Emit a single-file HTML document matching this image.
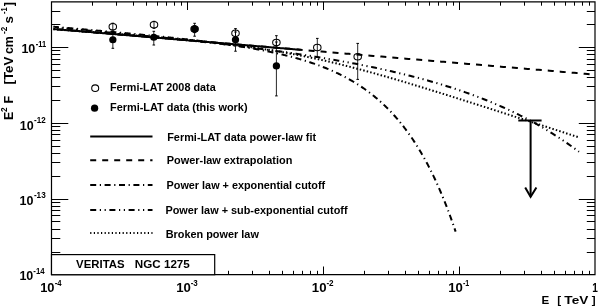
<!DOCTYPE html>
<html><head><meta charset="utf-8"><style>
html,body{margin:0;padding:0;background:#fff;}
body{width:600px;height:308px;overflow:hidden;}
svg{display:block;filter:blur(0.3px);}
text{font-family:"Liberation Sans",sans-serif;font-weight:bold;}
</style></head><body>
<svg width="600" height="308" viewBox="0 0 600 308">
<rect width="600" height="308" fill="#fff"/>
<path d="M51.5,252.5H60.3M595.0,252.5H586.8" stroke="#000" stroke-width="1"/>
<path d="M51.5,238.5H60.3M595.0,238.5H586.8" stroke="#000" stroke-width="1"/>
<path d="M51.5,229.5H60.3M595.0,229.5H586.8" stroke="#000" stroke-width="1"/>
<path d="M51.5,221.5H60.3M595.0,221.5H586.8" stroke="#000" stroke-width="1"/>
<path d="M51.5,215.5H60.3M595.0,215.5H586.8" stroke="#000" stroke-width="1"/>
<path d="M51.5,210.5H60.3M595.0,210.5H586.8" stroke="#000" stroke-width="1"/>
<path d="M51.5,206.5H60.3M595.0,206.5H586.8" stroke="#000" stroke-width="1"/>
<path d="M51.5,202.5H60.3M595.0,202.5H586.8" stroke="#000" stroke-width="1"/>
<path d="M51.5,199.5H68.3M595.0,199.5H578.8" stroke="#000" stroke-width="1"/>
<path d="M51.5,176.5H60.3M595.0,176.5H586.8" stroke="#000" stroke-width="1"/>
<path d="M51.5,162.5H60.3M595.0,162.5H586.8" stroke="#000" stroke-width="1"/>
<path d="M51.5,153.5H60.3M595.0,153.5H586.8" stroke="#000" stroke-width="1"/>
<path d="M51.5,146.5H60.3M595.0,146.5H586.8" stroke="#000" stroke-width="1"/>
<path d="M51.5,140.5H60.3M595.0,140.5H586.8" stroke="#000" stroke-width="1"/>
<path d="M51.5,134.5H60.3M595.0,134.5H586.8" stroke="#000" stroke-width="1"/>
<path d="M51.5,130.5H60.3M595.0,130.5H586.8" stroke="#000" stroke-width="1"/>
<path d="M51.5,126.5H60.3M595.0,126.5H586.8" stroke="#000" stroke-width="1"/>
<path d="M51.5,123.5H68.3M595.0,123.5H578.8" stroke="#000" stroke-width="1"/>
<path d="M51.5,100.5H60.3M595.0,100.5H586.8" stroke="#000" stroke-width="1"/>
<path d="M51.5,86.5H60.3M595.0,86.5H586.8" stroke="#000" stroke-width="1"/>
<path d="M51.5,77.5H60.3M595.0,77.5H586.8" stroke="#000" stroke-width="1"/>
<path d="M51.5,70.5H60.3M595.0,70.5H586.8" stroke="#000" stroke-width="1"/>
<path d="M51.5,64.5H60.3M595.0,64.5H586.8" stroke="#000" stroke-width="1"/>
<path d="M51.5,59.5H60.3M595.0,59.5H586.8" stroke="#000" stroke-width="1"/>
<path d="M51.5,54.5H60.3M595.0,54.5H586.8" stroke="#000" stroke-width="1"/>
<path d="M51.5,50.5H60.3M595.0,50.5H586.8" stroke="#000" stroke-width="1"/>
<path d="M51.5,47.5H68.3M595.0,47.5H578.8" stroke="#000" stroke-width="1"/>
<path d="M51.5,24.5H60.3M595.0,24.5H586.8" stroke="#000" stroke-width="1"/>
<path d="M51.5,11.5H60.3M595.0,11.5H586.8" stroke="#000" stroke-width="1"/>
<path d="M92.5,274.7V270.8M92.5,1.8V5.7" stroke="#000" stroke-width="1"/>
<path d="M116.5,274.7V270.8M116.5,1.8V5.7" stroke="#000" stroke-width="1"/>
<path d="M133.5,274.7V270.8M133.5,1.8V5.7" stroke="#000" stroke-width="1"/>
<path d="M146.5,274.7V270.8M146.5,1.8V5.7" stroke="#000" stroke-width="1"/>
<path d="M157.5,274.7V270.8M157.5,1.8V5.7" stroke="#000" stroke-width="1"/>
<path d="M166.5,274.7V270.8M166.5,1.8V5.7" stroke="#000" stroke-width="1"/>
<path d="M174.5,274.7V270.8M174.5,1.8V5.7" stroke="#000" stroke-width="1"/>
<path d="M181.5,274.7V270.8M181.5,1.8V5.7" stroke="#000" stroke-width="1"/>
<path d="M187.5,274.7V266.5M187.5,1.8V10.0" stroke="#000" stroke-width="1"/>
<path d="M228.5,274.7V270.8M228.5,1.8V5.7" stroke="#000" stroke-width="1"/>
<path d="M252.5,274.7V270.8M252.5,1.8V5.7" stroke="#000" stroke-width="1"/>
<path d="M269.5,274.7V270.8M269.5,1.8V5.7" stroke="#000" stroke-width="1"/>
<path d="M282.5,274.7V270.8M282.5,1.8V5.7" stroke="#000" stroke-width="1"/>
<path d="M293.5,274.7V270.8M293.5,1.8V5.7" stroke="#000" stroke-width="1"/>
<path d="M302.5,274.7V270.8M302.5,1.8V5.7" stroke="#000" stroke-width="1"/>
<path d="M310.5,274.7V270.8M310.5,1.8V5.7" stroke="#000" stroke-width="1"/>
<path d="M317.5,274.7V270.8M317.5,1.8V5.7" stroke="#000" stroke-width="1"/>
<path d="M323.5,274.7V266.5M323.5,1.8V10.0" stroke="#000" stroke-width="1"/>
<path d="M364.5,274.7V270.8M364.5,1.8V5.7" stroke="#000" stroke-width="1"/>
<path d="M388.5,274.7V270.8M388.5,1.8V5.7" stroke="#000" stroke-width="1"/>
<path d="M405.5,274.7V270.8M405.5,1.8V5.7" stroke="#000" stroke-width="1"/>
<path d="M418.5,274.7V270.8M418.5,1.8V5.7" stroke="#000" stroke-width="1"/>
<path d="M429.5,274.7V270.8M429.5,1.8V5.7" stroke="#000" stroke-width="1"/>
<path d="M438.5,274.7V270.8M438.5,1.8V5.7" stroke="#000" stroke-width="1"/>
<path d="M446.5,274.7V270.8M446.5,1.8V5.7" stroke="#000" stroke-width="1"/>
<path d="M453.5,274.7V270.8M453.5,1.8V5.7" stroke="#000" stroke-width="1"/>
<path d="M459.5,274.7V266.5M459.5,1.8V10.0" stroke="#000" stroke-width="1"/>
<path d="M500.5,274.7V270.8M500.5,1.8V5.7" stroke="#000" stroke-width="1"/>
<path d="M524.5,274.7V270.8M524.5,1.8V5.7" stroke="#000" stroke-width="1"/>
<path d="M541.5,274.7V270.8M541.5,1.8V5.7" stroke="#000" stroke-width="1"/>
<path d="M554.5,274.7V270.8M554.5,1.8V5.7" stroke="#000" stroke-width="1"/>
<path d="M565.5,274.7V270.8M565.5,1.8V5.7" stroke="#000" stroke-width="1"/>
<path d="M574.5,274.7V270.8M574.5,1.8V5.7" stroke="#000" stroke-width="1"/>
<path d="M582.5,274.7V270.8M582.5,1.8V5.7" stroke="#000" stroke-width="1"/>
<path d="M589.5,274.7V270.8M589.5,1.8V5.7" stroke="#000" stroke-width="1"/>
<path d="M51.5,1.8H595.0V274.7H51.5Z" fill="none" stroke="#000" stroke-width="1.2"/>
<path d="M53.30,28.98 L54.54,29.08 L55.79,29.18 L57.03,29.29 L58.27,29.39 L59.51,29.50 L60.76,29.60 L62.00,29.71 L63.24,29.81 L64.48,29.92 L65.73,30.02 L66.97,30.13 L68.21,30.23 L69.46,30.34 L70.70,30.44 L71.94,30.54 L73.18,30.65 L74.43,30.75 L75.67,30.86 L76.91,30.96 L78.15,31.07 L79.40,31.17 L80.64,31.28 L81.88,31.38 L83.13,31.49 L84.37,31.59 L85.61,31.70 L86.85,31.80 L88.10,31.91 L89.34,32.01 L90.58,32.11 L91.82,32.22 L93.07,32.32 L94.31,32.43 L95.55,32.53 L96.79,32.64 L98.04,32.74 L99.28,32.85 L100.52,32.95 L101.77,33.06 L103.01,33.16 L104.25,33.27 L105.49,33.37 L106.74,33.48 L107.98,33.58 L109.22,33.68 L110.46,33.79 L111.71,33.89 L112.95,34.00 L114.19,34.10 L115.44,34.21 L116.68,34.31 L117.92,34.42 L119.16,34.52 L120.41,34.63 L121.65,34.73 L122.89,34.84 L124.13,34.94 L125.38,35.04 L126.62,35.15 L127.86,35.25 L129.11,35.36 L130.35,35.46 L131.59,35.57 L132.83,35.67 L134.08,35.78 L135.32,35.88 L136.56,35.99 L137.80,36.09 L139.05,36.20 L140.29,36.30 L141.53,36.41 L142.78,36.51 L144.02,36.61 L145.26,36.72 L146.50,36.82 L147.75,36.93 L148.99,37.03 L150.23,37.14 L151.47,37.24 L152.72,37.35 L153.96,37.45 L155.20,37.56 L156.45,37.66 L157.69,37.77 L158.93,37.87 L160.17,37.98 L161.42,38.08 L162.66,38.18 L163.90,38.29 L165.14,38.39 L166.39,38.50 L167.63,38.60 L168.87,38.71 L170.12,38.81 L171.36,38.92 L172.60,39.02 L173.84,39.13 L175.09,39.23 L176.33,39.34 L177.57,39.44 L178.81,39.54 L180.06,39.65 L181.30,39.75 L182.54,39.86 L183.78,39.96 L185.03,40.07 L186.27,40.17 L187.51,40.28 L188.76,40.38 L190.00,40.49 L191.24,40.59 L192.48,40.70 L193.73,40.80 L194.97,40.91 L196.21,41.01 L197.45,41.11 L198.70,41.22 L199.94,41.32 L201.18,41.43 L202.43,41.53 L203.67,41.64 L204.91,41.74 L206.15,41.85 L207.40,41.95 L208.64,42.06 L209.88,42.16 L211.12,42.27 L212.37,42.37 L213.61,42.47 L214.85,42.58 L216.10,42.68 L217.34,42.79 L218.58,42.89 L219.82,43.00 L221.07,43.10 L222.31,43.21 L223.55,43.31 L224.79,43.42 L226.04,43.52 L227.28,43.63 L228.52,43.73 L229.77,43.84 L231.01,43.94 L232.25,44.04 L233.49,44.15 L234.74,44.25 L235.98,44.36 L237.22,44.46 L238.46,44.57 L239.71,44.67 L240.95,44.78 L242.19,44.88 L243.44,44.99 L244.68,45.09 L245.92,45.20 L247.16,45.30 L248.41,45.41 L249.65,45.51 L250.89,45.61 L252.13,45.72 L253.38,45.82 L254.62,45.93 L255.86,46.03 L257.11,46.14 L258.35,46.24 L259.59,46.35 L260.83,46.45 L262.08,46.56 L263.32,46.66 L264.56,46.77 L265.80,46.87 L267.05,46.97 L268.29,47.08 L269.53,47.18 L270.77,47.29 L272.02,47.39 L273.26,47.50 L274.50,47.60 L275.75,47.71 L276.99,47.81 L278.23,47.92 L279.47,48.02 L280.72,48.13 L281.96,48.23 L283.20,48.34 L284.44,48.44 L285.69,48.54 L286.93,48.65 L288.17,48.75 L289.42,48.86 L290.66,48.96 L291.90,49.07 L293.14,49.17 L294.39,49.28 L295.63,49.38 L296.87,49.49 L298.11,49.59 L299.36,49.70 L300.60,49.80" fill="none" stroke="#000" stroke-width="2.0"/>
<path d="M53.30,28.98 L56.01,29.20 L58.72,29.43 L61.44,29.66 L64.15,29.89 L66.86,30.12 L69.57,30.35 L72.28,30.57 L75.00,30.80 L77.71,31.03 L80.42,31.26 L83.13,31.49 L85.84,31.72 L88.56,31.94 L91.27,32.17 L93.98,32.40 L96.69,32.63 L99.41,32.86 L102.12,33.09 L104.83,33.31 L107.54,33.54 L110.25,33.77 L112.97,34.00 L115.68,34.23 L118.39,34.46 L121.10,34.68 L123.81,34.91 L126.53,35.14 L129.24,35.37 L131.95,35.60 L134.66,35.83 L137.37,36.06 L140.09,36.28 L142.80,36.51 L145.51,36.74 L148.22,36.97 L150.93,37.20 L153.65,37.43 L156.36,37.65 L159.07,37.88 L161.78,38.11 L164.49,38.34 L167.21,38.57 L169.92,38.80 L172.63,39.02 L175.34,39.25 L178.05,39.48 L180.77,39.71 L183.48,39.94 L186.19,40.17 L188.90,40.39 L191.62,40.62 L194.33,40.85 L197.04,41.08 L199.75,41.31 L202.46,41.54 L205.18,41.76 L207.89,41.99 L210.60,42.22 L213.31,42.45 L216.02,42.68 L218.74,42.91 L221.45,43.13 L224.16,43.36 L226.87,43.59 L229.58,43.82 L232.30,44.05 L235.01,44.28 L237.72,44.51 L240.43,44.73 L243.14,44.96 L245.86,45.19 L248.57,45.42 L251.28,45.65 L253.99,45.88 L256.70,46.10 L259.42,46.33 L262.13,46.56 L264.84,46.79 L267.55,47.02 L270.26,47.25 L272.98,47.47 L275.69,47.70 L278.40,47.93 L281.11,48.16 L283.83,48.39 L286.54,48.62 L289.25,48.84 L291.96,49.07 L294.67,49.30 L297.39,49.53 L300.10,49.76 L302.81,49.99 L305.52,50.21 L308.23,50.44 L310.95,50.67 L313.66,50.90 L316.37,51.13 L319.08,51.36 L321.79,51.59 L324.51,51.81 L327.22,52.04 L329.93,52.27 L332.64,52.50 L335.35,52.73 L338.07,52.96 L340.78,53.18 L343.49,53.41 L346.20,53.64 L348.91,53.87 L351.63,54.10 L354.34,54.33 L357.05,54.55 L359.76,54.78 L362.47,55.01 L365.19,55.24 L367.90,55.47 L370.61,55.70 L373.32,55.92 L376.04,56.15 L378.75,56.38 L381.46,56.61 L384.17,56.84 L386.88,57.07 L389.60,57.29 L392.31,57.52 L395.02,57.75 L397.73,57.98 L400.44,58.21 L403.16,58.44 L405.87,58.67 L408.58,58.89 L411.29,59.12 L414.00,59.35 L416.72,59.58 L419.43,59.81 L422.14,60.04 L424.85,60.26 L427.56,60.49 L430.28,60.72 L432.99,60.95 L435.70,61.18 L438.41,61.41 L441.12,61.63 L443.84,61.86 L446.55,62.09 L449.26,62.32 L451.97,62.55 L454.68,62.78 L457.40,63.00 L460.11,63.23 L462.82,63.46 L465.53,63.69 L468.25,63.92 L470.96,64.15 L473.67,64.37 L476.38,64.60 L479.09,64.83 L481.81,65.06 L484.52,65.29 L487.23,65.52 L489.94,65.74 L492.65,65.97 L495.37,66.20 L498.08,66.43 L500.79,66.66 L503.50,66.89 L506.21,67.12 L508.93,67.34 L511.64,67.57 L514.35,67.80 L517.06,68.03 L519.77,68.26 L522.49,68.49 L525.20,68.71 L527.91,68.94 L530.62,69.17 L533.33,69.40 L536.05,69.63 L538.76,69.86 L541.47,70.08 L544.18,70.31 L546.89,70.54 L549.61,70.77 L552.32,71.00 L555.03,71.23 L557.74,71.45 L560.46,71.68 L563.17,71.91 L565.88,72.14 L568.59,72.37 L571.30,72.60 L574.02,72.82 L576.73,73.05 L579.44,73.28 L582.15,73.51 L584.86,73.74 L587.58,73.97 L590.29,74.20 L593.00,74.42" fill="none" stroke="#000" stroke-width="2.0" stroke-dasharray="6 6" stroke-dashoffset="7.8"/>
<path d="M53.30,26.75 L53.98,26.81 L54.67,26.87 L55.35,26.93 L56.04,26.99 L56.72,27.04 L57.41,27.10 L58.09,27.16 L58.77,27.22 L59.46,27.28 L60.14,27.34 L60.83,27.40 L61.51,27.46 L62.19,27.51 L62.88,27.57 L63.56,27.63 L64.25,27.69 L64.93,27.75 L65.62,27.81 L66.30,27.87 L66.98,27.93 L67.67,27.99 L68.35,28.05 L69.04,28.10 L69.72,28.16 L70.41,28.22 L71.09,28.28 L71.77,28.34 L72.46,28.40 L73.14,28.46 L73.83,28.52 L74.51,28.58 L75.20,28.64 L75.88,28.70 L76.56,28.76 L77.25,28.82 L77.93,28.88 L78.62,28.94 L79.30,29.00 L79.98,29.06 L80.67,29.12 L81.35,29.18 L82.04,29.24 L82.72,29.30 L83.41,29.36 L84.09,29.42 L84.77,29.48 L85.46,29.54 L86.14,29.60 L86.83,29.66 L87.51,29.72 L88.20,29.78 L88.88,29.84 L89.56,29.90 L90.25,29.96 L90.93,30.02 L91.62,30.08 L92.30,30.14 L92.99,30.20 L93.67,30.26 L94.35,30.32 L95.04,30.38 L95.72,30.44 L96.41,30.51 L97.09,30.57 L97.77,30.63 L98.46,30.69 L99.14,30.75 L99.83,30.81 L100.51,30.87 L101.20,30.93 L101.88,30.99 L102.56,31.06 L103.25,31.12 L103.93,31.18 L104.62,31.24 L105.30,31.30 L105.99,31.36 L106.67,31.43 L107.35,31.49 L108.04,31.55 L108.72,31.61 L109.41,31.67 L110.09,31.74 L110.78,31.80 L111.46,31.86 L112.14,31.92 L112.83,31.98 L113.51,32.05 L114.20,32.11 L114.88,32.17 L115.56,32.23 L116.25,32.30 L116.93,32.36 L117.62,32.42 L118.30,32.49 L118.99,32.55 L119.67,32.61 L120.35,32.67 L121.04,32.74 L121.72,32.80 L122.41,32.86 L123.09,32.93 L123.78,32.99 L124.46,33.06 L125.14,33.12 L125.83,33.18 L126.51,33.25 L127.20,33.31 L127.88,33.37 L128.57,33.44 L129.25,33.50 L129.93,33.57 L130.62,33.63 L131.30,33.70 L131.99,33.76 L132.67,33.83 L133.35,33.89 L134.04,33.96 L134.72,34.02 L135.41,34.09 L136.09,34.15 L136.78,34.22 L137.46,34.28 L138.14,34.35 L138.83,34.41 L139.51,34.48 L140.20,34.54 L140.88,34.61 L141.57,34.68 L142.25,34.74 L142.93,34.81 L143.62,34.88 L144.30,34.94 L144.99,35.01 L145.67,35.08 L146.36,35.14 L147.04,35.21 L147.72,35.28 L148.41,35.34 L149.09,35.41 L149.78,35.48 L150.46,35.55 L151.14,35.61 L151.83,35.68 L152.51,35.75 L153.20,35.82 L153.88,35.89 L154.57,35.95 L155.25,36.02 L155.93,36.09 L156.62,36.16 L157.30,36.23 L157.99,36.30 L158.67,36.37 L159.36,36.44 L160.04,36.51 L160.72,36.58 L161.41,36.65 L162.09,36.72 L162.78,36.79 L163.46,36.86 L164.15,36.93 L164.83,37.00 L165.51,37.07 L166.20,37.14 L166.88,37.21 L167.57,37.28 L168.25,37.36 L168.93,37.43 L169.62,37.50 L170.30,37.57 L170.99,37.64 L171.67,37.72 L172.36,37.79 L173.04,37.86 L173.72,37.94 L174.41,38.01 L175.09,38.08 L175.78,38.16 L176.46,38.23 L177.15,38.30 L177.83,38.38 L178.51,38.45 L179.20,38.53 L179.88,38.60 L180.57,38.68 L181.25,38.75 L181.94,38.83 L182.62,38.90 L183.30,38.98 L183.99,39.06 L184.67,39.13 L185.36,39.21 L186.04,39.29 L186.72,39.36 L187.41,39.44 L188.09,39.52 L188.78,39.60 L189.46,39.68 L190.15,39.75 L190.83,39.83 L191.51,39.91 L192.20,39.99 L192.88,40.07 L193.57,40.15 L194.25,40.23 L194.94,40.31 L195.62,40.39 L196.30,40.47 L196.99,40.55 L197.67,40.63 L198.36,40.72 L199.04,40.80 L199.73,40.88 L200.41,40.96 L201.09,41.05 L201.78,41.13 L202.46,41.21 L203.15,41.30 L203.83,41.38 L204.51,41.47 L205.20,41.55 L205.88,41.64 L206.57,41.72 L207.25,41.81 L207.94,41.89 L208.62,41.98 L209.30,42.07 L209.99,42.15 L210.67,42.24 L211.36,42.33 L212.04,42.42 L212.73,42.51 L213.41,42.60 L214.09,42.69 L214.78,42.78 L215.46,42.87 L216.15,42.96 L216.83,43.05 L217.52,43.14 L218.20,43.23 L218.88,43.32 L219.57,43.42 L220.25,43.51 L220.94,43.60 L221.62,43.70 L222.30,43.79 L222.99,43.89 L223.67,43.98 L224.36,44.08 L225.04,44.17 L225.73,44.27 L226.41,44.37 L227.09,44.47 L227.78,44.56 L228.46,44.66 L229.15,44.76 L229.83,44.86 L230.52,44.96 L231.20,45.06 L231.88,45.16 L232.57,45.27 L233.25,45.37 L233.94,45.47 L234.62,45.57 L235.31,45.68 L235.99,45.78 L236.67,45.89 L237.36,45.99 L238.04,46.10 L238.73,46.20 L239.41,46.31 L240.09,46.42 L240.78,46.53 L241.46,46.64 L242.15,46.75 L242.83,46.86 L243.52,46.97 L244.20,47.08 L244.88,47.19 L245.57,47.31 L246.25,47.42 L246.94,47.53 L247.62,47.65 L248.31,47.76 L248.99,47.88 L249.67,48.00 L250.36,48.11 L251.04,48.23 L251.73,48.35 L252.41,48.47 L253.10,48.59 L253.78,48.71 L254.46,48.83 L255.15,48.96 L255.83,49.08 L256.52,49.21 L257.20,49.33 L257.88,49.46 L258.57,49.58 L259.25,49.71 L259.94,49.84 L260.62,49.97 L261.31,50.10 L261.99,50.23 L262.67,50.36 L263.36,50.49 L264.04,50.63 L264.73,50.76 L265.41,50.90 L266.10,51.03 L266.78,51.17 L267.46,51.31 L268.15,51.45 L268.83,51.59 L269.52,51.73 L270.20,51.87 L270.89,52.02 L271.57,52.16 L272.25,52.30 L272.94,52.45 L273.62,52.60 L274.31,52.75 L274.99,52.90 L275.67,53.05 L276.36,53.20 L277.04,53.35 L277.73,53.50 L278.41,53.66 L279.10,53.81 L279.78,53.97 L280.46,54.13 L281.15,54.29 L281.83,54.45 L282.52,54.61 L283.20,54.78 L283.89,54.94 L284.57,55.11 L285.25,55.27 L285.94,55.44 L286.62,55.61 L287.31,55.78 L287.99,55.95 L288.68,56.13 L289.36,56.30 L290.04,56.48 L290.73,56.66 L291.41,56.84 L292.10,57.02 L292.78,57.20 L293.46,57.38 L294.15,57.57 L294.83,57.75 L295.52,57.94 L296.20,58.13 L296.89,58.32 L297.57,58.51 L298.25,58.71 L298.94,58.90 L299.62,59.10 L300.31,59.30 L300.99,59.50 L301.68,59.70 L302.36,59.91 L303.04,60.11 L303.73,60.32 L304.41,60.53 L305.10,60.74 L305.78,60.96 L306.47,61.17 L307.15,61.39 L307.83,61.60 L308.52,61.83 L309.20,62.05 L309.89,62.27 L310.57,62.50 L311.25,62.73 L311.94,62.96 L312.62,63.19 L313.31,63.42 L313.99,63.66 L314.68,63.90 L315.36,64.14 L316.04,64.38 L316.73,64.63 L317.41,64.87 L318.10,65.12 L318.78,65.37 L319.47,65.63 L320.15,65.88 L320.83,66.14 L321.52,66.40 L322.20,66.67 L322.89,66.93 L323.57,67.20 L324.26,67.47 L324.94,67.74 L325.62,68.02 L326.31,68.30 L326.99,68.58 L327.68,68.86 L328.36,69.15 L329.04,69.43 L329.73,69.73 L330.41,70.02 L331.10,70.32 L331.78,70.62 L332.47,70.92 L333.15,71.22 L333.83,71.53 L334.52,71.84 L335.20,72.16 L335.89,72.48 L336.57,72.80 L337.26,73.12 L337.94,73.44 L338.62,73.77 L339.31,74.11 L339.99,74.44 L340.68,74.78 L341.36,75.12 L342.05,75.47 L342.73,75.82 L343.41,76.17 L344.10,76.53 L344.78,76.89 L345.47,77.25 L346.15,77.62 L346.83,77.99 L347.52,78.36 L348.20,78.74 L348.89,79.12 L349.57,79.51 L350.26,79.89 L350.94,80.29 L351.62,80.68 L352.31,81.08 L352.99,81.49 L353.68,81.90 L354.36,82.31 L355.05,82.73 L355.73,83.15 L356.41,83.57 L357.10,84.00 L357.78,84.44 L358.47,84.88 L359.15,85.32 L359.84,85.77 L360.52,86.22 L361.20,86.68 L361.89,87.14 L362.57,87.60 L363.26,88.08 L363.94,88.55 L364.62,89.03 L365.31,89.52 L365.99,90.01 L366.68,90.50 L367.36,91.00 L368.05,91.51 L368.73,92.02 L369.41,92.54 L370.10,93.06 L370.78,93.59 L371.47,94.12 L372.15,94.66 L372.84,95.20 L373.52,95.75 L374.20,96.31 L374.89,96.87 L375.57,97.43 L376.26,98.01 L376.94,98.59 L377.63,99.17 L378.31,99.76 L378.99,100.36 L379.68,100.96 L380.36,101.57 L381.05,102.19 L381.73,102.81 L382.41,103.44 L383.10,104.08 L383.78,104.72 L384.47,105.37 L385.15,106.03 L385.84,106.69 L386.52,107.37 L387.20,108.04 L387.89,108.73 L388.57,109.42 L389.26,110.12 L389.94,110.83 L390.63,111.55 L391.31,112.27 L391.99,113.00 L392.68,113.74 L393.36,114.48 L394.05,115.24 L394.73,116.00 L395.42,116.77 L396.10,117.55 L396.78,118.34 L397.47,119.14 L398.15,119.94 L398.84,120.75 L399.52,121.58 L400.20,122.41 L400.89,123.25 L401.57,124.10 L402.26,124.96 L402.94,125.82 L403.63,126.70 L404.31,127.59 L404.99,128.49 L405.68,129.39 L406.36,130.31 L407.05,131.24 L407.73,132.17 L408.42,133.12 L409.10,134.08 L409.78,135.05 L410.47,136.02 L411.15,137.01 L411.84,138.01 L412.52,139.02 L413.21,140.05 L413.89,141.08 L414.57,142.13 L415.26,143.18 L415.94,144.25 L416.63,145.33 L417.31,146.42 L417.99,147.53 L418.68,148.64 L419.36,149.77 L420.05,150.91 L420.73,152.06 L421.42,153.23 L422.10,154.41 L422.78,155.60 L423.47,156.81 L424.15,158.03 L424.84,159.26 L425.52,160.51 L426.21,161.77 L426.89,163.04 L427.57,164.33 L428.26,165.63 L428.94,166.95 L429.63,168.28 L430.31,169.63 L431.00,170.99 L431.68,172.37 L432.36,173.76 L433.05,175.17 L433.73,176.59 L434.42,178.03 L435.10,179.49 L435.78,180.96 L436.47,182.45 L437.15,183.95 L437.84,185.48 L438.52,187.02 L439.21,188.57 L439.89,190.15 L440.57,191.74 L441.26,193.35 L441.94,194.98 L442.63,196.62 L443.31,198.29 L444.00,199.97 L444.68,201.67 L445.36,203.39 L446.05,205.14 L446.73,206.90 L447.42,208.68 L448.10,210.48 L448.79,212.30 L449.47,214.14 L450.15,216.00 L450.84,217.89 L451.52,219.79 L452.21,221.72 L452.89,223.66 L453.57,225.63 L454.26,227.63 L454.94,229.64 L455.63,231.68" fill="none" stroke="#000" stroke-width="2.0" stroke-dasharray="6 3.6 1.2 3.6" stroke-dashoffset="0.3"/>
<path d="M53.30,27.43 L55.94,27.67 L58.58,27.90 L61.23,28.13 L63.87,28.36 L66.51,28.59 L69.15,28.83 L71.79,29.06 L74.43,29.30 L77.08,29.53 L79.72,29.77 L82.36,30.01 L85.00,30.25 L87.64,30.49 L90.28,30.72 L92.93,30.97 L95.57,31.21 L98.21,31.45 L100.85,31.69 L103.49,31.93 L106.13,32.18 L108.78,32.42 L111.42,32.67 L114.06,32.92 L116.70,33.17 L119.34,33.41 L121.98,33.66 L124.63,33.92 L127.27,34.17 L129.91,34.42 L132.55,34.67 L135.19,34.93 L137.83,35.19 L140.48,35.44 L143.12,35.70 L145.76,35.96 L148.40,36.22 L151.04,36.48 L153.68,36.75 L156.33,37.01 L158.97,37.28 L161.61,37.55 L164.25,37.81 L166.89,38.08 L169.54,38.36 L172.18,38.63 L174.82,38.90 L177.46,39.18 L180.10,39.46 L182.74,39.73 L185.39,40.02 L188.03,40.30 L190.67,40.58 L193.31,40.87 L195.95,41.15 L198.59,41.44 L201.24,41.73 L203.88,42.03 L206.52,42.32 L209.16,42.62 L211.80,42.92 L214.44,43.22 L217.09,43.52 L219.73,43.83 L222.37,44.13 L225.01,44.44 L227.65,44.75 L230.29,45.07 L232.94,45.38 L235.58,45.70 L238.22,46.02 L240.86,46.35 L243.50,46.67 L246.14,47.00 L248.79,47.33 L251.43,47.67 L254.07,48.00 L256.71,48.34 L259.35,48.69 L261.99,49.03 L264.64,49.38 L267.28,49.73 L269.92,50.09 L272.56,50.44 L275.20,50.80 L277.85,51.17 L280.49,51.54 L283.13,51.91 L285.77,52.28 L288.41,52.66 L291.05,53.05 L293.70,53.43 L296.34,53.82 L298.98,54.22 L301.62,54.61 L304.26,55.02 L306.90,55.42 L309.55,55.83 L312.19,56.25 L314.83,56.67 L317.47,57.09 L320.11,57.52 L322.75,57.96 L325.40,58.40 L328.04,58.84 L330.68,59.29 L333.32,59.74 L335.96,60.20 L338.60,60.67 L341.25,61.14 L343.89,61.61 L346.53,62.10 L349.17,62.58 L351.81,63.08 L354.45,63.58 L357.10,64.08 L359.74,64.60 L362.38,65.12 L365.02,65.64 L367.66,66.18 L370.31,66.72 L372.95,67.26 L375.59,67.82 L378.23,68.38 L380.87,68.95 L383.51,69.53 L386.16,70.11 L388.80,70.70 L391.44,71.31 L394.08,71.92 L396.72,72.54 L399.36,73.16 L402.01,73.80 L404.65,74.45 L407.29,75.10 L409.93,75.77 L412.57,76.44 L415.21,77.13 L417.86,77.82 L420.50,78.53 L423.14,79.24 L425.78,79.97 L428.42,80.71 L431.06,81.46 L433.71,82.22 L436.35,82.99 L438.99,83.78 L441.63,84.57 L444.27,85.38 L446.91,86.21 L449.56,87.04 L452.20,87.89 L454.84,88.75 L457.48,89.63 L460.12,90.52 L462.76,91.43 L465.41,92.35 L468.05,93.29 L470.69,94.24 L473.33,95.21 L475.97,96.19 L478.62,97.19 L481.26,98.21 L483.90,99.25 L486.54,100.30 L489.18,101.37 L491.82,102.46 L494.47,103.57 L497.11,104.69 L499.75,105.84 L502.39,107.01 L505.03,108.19 L507.67,109.40 L510.32,110.63 L512.96,111.88 L515.60,113.16 L518.24,114.45 L520.88,115.77 L523.52,117.12 L526.17,118.49 L528.81,119.88 L531.45,121.30 L534.09,122.74 L536.73,124.21 L539.37,125.71 L542.02,127.23 L544.66,128.78 L547.30,130.36 L549.94,131.97 L552.58,133.61 L555.22,135.29 L557.87,136.99 L560.51,138.72 L563.15,140.49 L565.79,142.29 L568.43,144.12 L571.07,145.99 L573.72,147.89 L576.36,149.83 L579.00,151.81" fill="none" stroke="#000" stroke-width="2.0" stroke-dasharray="6 3.6 1.2 3.6 1.2 3.6" stroke-dashoffset="6"/>
<path d="M53.30,29.28 L55.94,29.47 L58.58,29.66 L61.23,29.85 L63.87,30.04 L66.51,30.23 L69.15,30.43 L71.79,30.62 L74.43,30.81 L77.08,31.01 L79.72,31.20 L82.36,31.39 L85.00,31.59 L87.64,31.78 L90.28,31.98 L92.93,32.18 L95.57,32.37 L98.21,32.57 L100.85,32.77 L103.49,32.97 L106.13,33.17 L108.78,33.37 L111.42,33.57 L114.06,33.77 L116.70,33.97 L119.34,34.17 L121.98,34.38 L124.63,34.58 L127.27,34.79 L129.91,35.00 L132.55,35.21 L135.19,35.41 L137.83,35.63 L140.48,35.84 L143.12,36.05 L145.76,36.27 L148.40,36.48 L151.04,36.70 L153.68,36.92 L156.33,37.14 L158.97,37.36 L161.61,37.59 L164.25,37.81 L166.89,38.04 L169.54,38.27 L172.18,38.51 L174.82,38.74 L177.46,38.98 L180.10,39.22 L182.74,39.47 L185.39,39.71 L188.03,39.96 L190.67,40.21 L193.31,40.47 L195.95,40.73 L198.59,40.99 L201.24,41.26 L203.88,41.53 L206.52,41.80 L209.16,42.08 L211.80,42.36 L214.44,42.65 L217.09,42.94 L219.73,43.24 L222.37,43.54 L225.01,43.85 L227.65,44.16 L230.29,44.47 L232.94,44.80 L235.58,45.13 L238.22,45.46 L240.86,45.80 L243.50,46.15 L246.14,46.50 L248.79,46.86 L251.43,47.23 L254.07,47.60 L256.71,47.99 L259.35,48.38 L261.99,48.77 L264.64,49.18 L267.28,49.59 L269.92,50.01 L272.56,50.44 L275.20,50.88 L277.85,51.32 L280.49,51.78 L283.13,52.24 L285.77,52.71 L288.41,53.19 L291.05,53.68 L293.70,54.17 L296.34,54.68 L298.98,55.19 L301.62,55.72 L304.26,56.25 L306.90,56.79 L309.55,57.34 L312.19,57.90 L314.83,58.47 L317.47,59.05 L320.11,59.63 L322.75,60.23 L325.40,60.83 L328.04,61.44 L330.68,62.06 L333.32,62.69 L335.96,63.32 L338.60,63.97 L341.25,64.62 L343.89,65.27 L346.53,65.94 L349.17,66.61 L351.81,67.29 L354.45,67.98 L357.10,68.67 L359.74,69.37 L362.38,70.08 L365.02,70.79 L367.66,71.51 L370.31,72.24 L372.95,72.97 L375.59,73.70 L378.23,74.44 L380.87,75.19 L383.51,75.94 L386.16,76.69 L388.80,77.45 L391.44,78.22 L394.08,78.99 L396.72,79.76 L399.36,80.54 L402.01,81.32 L404.65,82.10 L407.29,82.89 L409.93,83.68 L412.57,84.47 L415.21,85.27 L417.86,86.07 L420.50,86.87 L423.14,87.68 L425.78,88.49 L428.42,89.30 L431.06,90.11 L433.71,90.93 L436.35,91.74 L438.99,92.56 L441.63,93.38 L444.27,94.21 L446.91,95.03 L449.56,95.86 L452.20,96.69 L454.84,97.52 L457.48,98.35 L460.12,99.18 L462.76,100.02 L465.41,100.85 L468.05,101.69 L470.69,102.53 L473.33,103.36 L475.97,104.20 L478.62,105.05 L481.26,105.89 L483.90,106.73 L486.54,107.57 L489.18,108.42 L491.82,109.26 L494.47,110.11 L497.11,110.96 L499.75,111.80 L502.39,112.65 L505.03,113.50 L507.67,114.35 L510.32,115.20 L512.96,116.05 L515.60,116.90 L518.24,117.75 L520.88,118.60 L523.52,119.45 L526.17,120.31 L528.81,121.16 L531.45,122.01 L534.09,122.87 L536.73,123.72 L539.37,124.57 L542.02,125.43 L544.66,126.28 L547.30,127.14 L549.94,127.99 L552.58,128.85 L555.22,129.70 L557.87,130.56 L560.51,131.42 L563.15,132.27 L565.79,133.13 L568.43,133.99 L571.07,134.84 L573.72,135.70 L576.36,136.56 L579.00,137.41" fill="none" stroke="#000" stroke-width="2.0" stroke-dasharray="1.5 2.1"/>
<path d="M112.8,23.2V30.2" stroke="#000" stroke-width="0.85"/><path d="M111.5,23.2H114.1M111.5,30.2H114.1" stroke="#000" stroke-width="1"/>
<ellipse cx="112.8" cy="26.7" rx="3.75" ry="3.25" fill="none" stroke="#000" stroke-width="1.05"/>
<path d="M154.0,21.3V28.3" stroke="#000" stroke-width="0.85"/><path d="M152.7,21.3H155.3M152.7,28.3H155.3" stroke="#000" stroke-width="1"/>
<ellipse cx="154.0" cy="24.8" rx="3.75" ry="3.25" fill="none" stroke="#000" stroke-width="1.05"/>
<path d="M194.6,25.6V32.6" stroke="#000" stroke-width="0.85"/><path d="M193.29999999999998,25.6H195.9M193.29999999999998,32.6H195.9" stroke="#000" stroke-width="1"/>
<ellipse cx="194.6" cy="29.1" rx="3.75" ry="3.25" fill="none" stroke="#000" stroke-width="1.05"/>
<path d="M235.5,28.6V36.6" stroke="#000" stroke-width="0.85"/><path d="M234.2,28.6H236.8M234.2,36.6H236.8" stroke="#000" stroke-width="1"/>
<ellipse cx="235.5" cy="33.2" rx="3.75" ry="3.25" fill="none" stroke="#000" stroke-width="1.05"/>
<path d="M276.4,35.7V46.0" stroke="#000" stroke-width="0.85"/><path d="M275.09999999999997,35.7H277.7M275.09999999999997,46.0H277.7" stroke="#000" stroke-width="1"/>
<ellipse cx="276.4" cy="42.5" rx="3.75" ry="3.25" fill="none" stroke="#000" stroke-width="1.05"/>
<path d="M317.3,38.4V57.3" stroke="#000" stroke-width="0.85"/><path d="M316.0,38.4H318.6M316.0,57.3H318.6" stroke="#000" stroke-width="1"/>
<ellipse cx="317.3" cy="47.4" rx="3.75" ry="3.25" fill="none" stroke="#000" stroke-width="1.05"/>
<path d="M357.7,43.4V79.4" stroke="#000" stroke-width="0.85"/><path d="M356.4,43.4H359.0M356.4,79.4H359.0" stroke="#000" stroke-width="1"/>
<ellipse cx="357.7" cy="56.7" rx="3.75" ry="3.25" fill="none" stroke="#000" stroke-width="1.05"/>
<path d="M112.85,32.5V48.3" stroke="#000" stroke-width="0.85"/><path d="M111.55,32.5H114.14999999999999M111.55,48.3H114.14999999999999" stroke="#000" stroke-width="1"/>
<ellipse cx="112.85" cy="39.75" rx="3.65" ry="3.55" fill="#000"/>
<path d="M153.8,31.3V45.0" stroke="#000" stroke-width="0.85"/><path d="M152.5,31.3H155.10000000000002M152.5,45.0H155.10000000000002" stroke="#000" stroke-width="1"/>
<ellipse cx="153.8" cy="37.2" rx="3.65" ry="3.55" fill="#000"/>
<path d="M194.6,23.3V36.2" stroke="#000" stroke-width="0.85"/><path d="M193.29999999999998,23.3H195.9M193.29999999999998,36.2H195.9" stroke="#000" stroke-width="1"/>
<ellipse cx="194.6" cy="29.1" rx="3.65" ry="3.55" fill="#000"/>
<path d="M235.5,32.0V51.2" stroke="#000" stroke-width="0.85"/><path d="M234.2,32.0H236.8M234.2,51.2H236.8" stroke="#000" stroke-width="1"/>
<ellipse cx="235.5" cy="39.7" rx="3.65" ry="3.55" fill="#000"/>
<path d="M276.4,42.0V95.9" stroke="#000" stroke-width="0.85"/><path d="M275.09999999999997,42.0H277.7M275.09999999999997,95.9H277.7" stroke="#000" stroke-width="1"/>
<ellipse cx="276.4" cy="65.9" rx="3.65" ry="3.55" fill="#000"/>
<path d="M518.3,120.6H541.6M530.6,120.6V196.5" stroke="#000" stroke-width="2" fill="none"/>
<polyline points="525.2,187.5 530.6,196.8 536.4,187.5" fill="none" stroke="#000" stroke-width="2"/>
<ellipse cx="95.2" cy="88.15" rx="3.5" ry="3.3" fill="none" stroke="#000" stroke-width="1.05"/>
<ellipse cx="94.6" cy="108.15" rx="3.65" ry="3.55" fill="#000"/>
<text transform="translate(109.97,90.70) scale(1.0426,1)" font-size="10.4" font-family="Liberation Sans" font-weight="bold" xml:space="preserve">Fermi-LAT 2008 data</text>
<text transform="translate(109.97,111.00) scale(1.0519,1)" font-size="10.4" font-family="Liberation Sans" font-weight="bold" xml:space="preserve">Fermi-LAT data (this work)</text>
<line x1="90.2" y1="136.6" x2="152.5" y2="136.6" stroke="#000" stroke-width="2.0"/>
<text transform="translate(167.17,140.70) scale(1.0508,1)" font-size="10.4" font-family="Liberation Sans" font-weight="bold" xml:space="preserve">Fermi-LAT data power-law fit</text>
<line x1="90.2" y1="160.3" x2="152.5" y2="160.3" stroke="#000" stroke-width="2.0" stroke-dasharray="6 6"/>
<text transform="translate(166.77,163.80) scale(1.0500,1)" font-size="10.4" font-family="Liberation Sans" font-weight="bold" xml:space="preserve">Power-law extrapolation</text>
<line x1="90.2" y1="184.9" x2="152.5" y2="184.9" stroke="#000" stroke-width="2.0" stroke-dasharray="6 3.6 1.2 3.6"/>
<text transform="translate(166.57,188.60) scale(1.0436,1)" font-size="10.4" font-family="Liberation Sans" font-weight="bold" xml:space="preserve">Power law + exponential cutoff</text>
<line x1="90.2" y1="209.9" x2="152.5" y2="209.9" stroke="#000" stroke-width="2.0" stroke-dasharray="6 3.6 1.2 3.6 1.2 3.6"/>
<text transform="translate(165.47,213.70) scale(1.0470,1)" font-size="10.4" font-family="Liberation Sans" font-weight="bold" xml:space="preserve">Power law + sub-exponential cutoff</text>
<line x1="90.2" y1="232.9" x2="152.5" y2="232.9" stroke="#000" stroke-width="2.0" stroke-dasharray="1.2 2.4"/>
<text transform="translate(165.67,237.50) scale(1.0484,1)" font-size="10.4" font-family="Liberation Sans" font-weight="bold" xml:space="preserve">Broken power law</text>
<rect x="51.5" y="254.6" width="163.2" height="20.099999999999994" fill="#fff" stroke="#000" stroke-width="1.2"/>
<text transform="translate(76.12,268.30) scale(1.0537,1)" font-size="10.8" font-family="Liberation Sans" font-weight="bold" xml:space="preserve">VERITAS</text>
<text transform="translate(134.82,268.30) scale(1.0799,1)" font-size="10.8" font-family="Liberation Sans" font-weight="bold" xml:space="preserve">NGC 1275</text>
<text x="21.41" y="53.20" font-size="12.5" font-family="Liberation Sans" font-weight="bold">10</text>
<text transform="translate(35.71,47.30) scale(0.9003,1)" font-size="8.3" font-family="Liberation Sans" font-weight="bold" xml:space="preserve">-11</text>
<text x="19.81" y="129.50" font-size="12.5" font-family="Liberation Sans" font-weight="bold">10</text>
<text transform="translate(34.09,122.80) scale(0.9701,1)" font-size="8.3" font-family="Liberation Sans" font-weight="bold" xml:space="preserve">-12</text>
<text x="19.61" y="204.80" font-size="12.5" font-family="Liberation Sans" font-weight="bold">10</text>
<text transform="translate(33.88,198.20) scale(0.9849,1)" font-size="8.3" font-family="Liberation Sans" font-weight="bold" xml:space="preserve">-13</text>
<text x="19.41" y="280.20" font-size="12.5" font-family="Liberation Sans" font-weight="bold">10</text>
<text transform="translate(33.29,274.20) scale(0.9460,1)" font-size="8.3" font-family="Liberation Sans" font-weight="bold" xml:space="preserve">-14</text>
<text transform="translate(40.19,292.00) scale(1.0314,1)" font-size="12.5" font-family="Liberation Sans" font-weight="bold" xml:space="preserve">10</text>
<text transform="translate(54.70,285.60) scale(0.9271,1)" font-size="8.3" font-family="Liberation Sans" font-weight="bold" xml:space="preserve">-4</text>
<text transform="translate(176.17,292.00) scale(1.0552,1)" font-size="12.5" font-family="Liberation Sans" font-weight="bold" xml:space="preserve">10</text>
<text transform="translate(190.69,285.60) scale(0.9621,1)" font-size="8.3" font-family="Liberation Sans" font-weight="bold" xml:space="preserve">-3</text>
<text transform="translate(311.87,292.00) scale(1.0552,1)" font-size="12.5" font-family="Liberation Sans" font-weight="bold" xml:space="preserve">10</text>
<text transform="translate(326.38,285.60) scale(0.9816,1)" font-size="8.3" font-family="Liberation Sans" font-weight="bold" xml:space="preserve">-2</text>
<text transform="translate(448.17,292.00) scale(1.0552,1)" font-size="12.5" font-family="Liberation Sans" font-weight="bold" xml:space="preserve">10</text>
<text transform="translate(462.92,285.60) scale(0.8498,1)" font-size="8.3" font-family="Liberation Sans" font-weight="bold" xml:space="preserve">-1</text>
<text transform="translate(592.36,292.00) scale(0.8080,1)" font-size="12.5" font-family="Liberation Sans" font-weight="bold" xml:space="preserve">1</text>
<text x="541.62" y="304.00" font-size="11.6" font-family="Liberation Sans" font-weight="bold" xml:space="preserve">E</text>
<text x="557.35" y="304.00" font-size="11.6" font-family="Liberation Sans" font-weight="bold" xml:space="preserve">[</text>
<text transform="translate(564.35,304.00) scale(1.1726,1)" font-size="11.6" font-family="Liberation Sans" font-weight="bold" xml:space="preserve">TeV</text>
<text x="591.76" y="304.00" font-size="11.6" font-family="Liberation Sans" font-weight="bold" xml:space="preserve">]</text>
<g transform="translate(12.5,120) rotate(-90)"><text x="0.06" y="0.00" font-size="12.5" font-family="Liberation Sans" font-weight="bold" xml:space="preserve">E</text><text x="8.01" y="-5.60" font-size="8.3" font-family="Liberation Sans" font-weight="bold" xml:space="preserve">2</text><text x="16.46" y="0.00" font-size="12.5" font-family="Liberation Sans" font-weight="bold" xml:space="preserve">F</text><text transform="translate(35.45,0.00) scale(1.0684,1)" font-size="12.5" font-family="Liberation Sans" font-weight="bold" xml:space="preserve">[TeV</text><text transform="translate(65.92,0.00) scale(0.9879,1)" font-size="12.5" font-family="Liberation Sans" font-weight="bold" xml:space="preserve">cm</text><text transform="translate(85.98,-5.60) scale(0.9816,1)" font-size="8.3" font-family="Liberation Sans" font-weight="bold" xml:space="preserve">-2</text><text transform="translate(96.53,0.00) scale(1.0667,1)" font-size="12.5" font-family="Liberation Sans" font-weight="bold" xml:space="preserve">s</text><text transform="translate(105.91,-5.60) scale(0.9085,1)" font-size="8.3" font-family="Liberation Sans" font-weight="bold" xml:space="preserve">-1</text><text x="113.65" y="0.00" font-size="12.5" font-family="Liberation Sans" font-weight="bold" xml:space="preserve">]</text></g>
</svg>
</body></html>
